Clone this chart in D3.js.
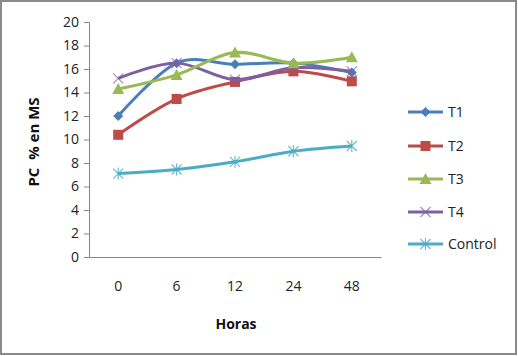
<!DOCTYPE html>
<html><head><meta charset="utf-8">
<script src="https://cdn.jsdelivr.net/npm/d3@7"></script>
<style>body{margin:0;background:#fff}svg{display:block}</style>
</head><body>
<svg id="c" width="518" height="356"></svg>
<script>
const categories = ["0","6","12","24","48"];
const seriesNames = ["T1","T2","T3","T4","Control"];
const T1 = [12.0, 16.5, 16.4, 16.5, 15.7];
const T2 = [10.4, 13.45, 14.9, 15.8, 14.95];
const T3 = [14.3, 15.5, 17.4, 16.5, 17.0];
const T4 = [15.2, 16.5, 15.1, 16.1, 15.8];
const Control = [7.1, 7.45, 8.1, 9.0, 9.45];
const yTicks = [0,2,4,6,8,10,12,14,16,18,20];
const colors = ["#4A7EBB","#BE4B48","#98B954","#7D60A0","#4AACC5"];
const markers = ["diamond","square","triangle","x","star"];
const data = [T1,T2,T3,T4,Control];

const svg = d3.select("#c");
const font = "'Open Sans', 'Noto Sans', sans-serif";
svg.append("rect").attr("x",1).attr("y",1).attr("width",515).attr("height",353)
  .attr("fill","#fff").attr("stroke","#8a8a8a").attr("stroke-width",2);

const x = d3.scaleBand().domain(categories).range([89,381]);
const y = d3.scaleLinear().domain([0,20]).range([257,22]);

const yAxis = svg.append("g").attr("transform","translate(89,0)")
  .call(d3.axisLeft(y).tickValues(yTicks).tickSize(5).tickPadding(5).tickSizeOuter(0));
yAxis.select(".domain").attr("stroke","#868686");
yAxis.selectAll(".tick line").attr("stroke","#868686");
yAxis.selectAll("text").attr("font-family",font).attr("font-size",14).attr("fill","#222");

const xAxis = svg.append("g").attr("transform","translate(0,257)")
  .call(d3.axisBottom(x).tickSize(0).tickPadding(24).tickSizeOuter(0));
xAxis.select(".domain").attr("stroke","#868686");
xAxis.selectAll("text").attr("font-family",font).attr("font-size",14).attr("fill","#222");

svg.append("text").attr("transform","translate(39,142) rotate(-90)")
  .attr("text-anchor","middle").attr("font-family",font).attr("font-weight","bold")
  .attr("font-size",15).attr("fill","#111").style("white-space","pre").text("PC  % en MS");
svg.append("text").attr("x",236).attr("y",329).attr("text-anchor","middle")
  .attr("font-family",font).attr("font-weight","bold").attr("font-size",14)
  .attr("fill","#111").text("Horas");

function drawMarker(g, type, color, cx, cy){
  if(type==="diamond"){
    g.append("path").attr("d",`M${cx},${cy-5}L${cx+5},${cy}L${cx},${cy+5}L${cx-5},${cy}Z`).attr("fill",color);
  } else if(type==="square"){
    g.append("rect").attr("x",cx-5).attr("y",cy-5).attr("width",10).attr("height",10).attr("fill",color);
  } else if(type==="triangle"){
    g.append("path").attr("d",`M${cx},${cy-6}L${cx+6},${cy+5}L${cx-6},${cy+5}Z`).attr("fill",color);
  } else if(type==="x"){
    g.append("path").attr("d",`M${cx-5},${cy-5}L${cx+5},${cy+5}M${cx-5},${cy+5}L${cx+5},${cy-5}`)
      .attr("stroke",color).attr("stroke-width",1.2).attr("opacity",0.7);
  } else if(type==="star"){
    g.append("path").attr("d",`M${cx-5},${cy-5}L${cx+5},${cy+5}M${cx-5},${cy+5}L${cx+5},${cy-5}M${cx},${cy-6}L${cx},${cy+6}`)
      .attr("stroke",color).attr("stroke-width",1.2).attr("opacity",0.8);
  }
}

const line = d3.line().x((d,i)=>x(categories[i])+x.bandwidth()/2).y(d=>y(d)).curve(d3.curveCardinal.tension(0));
const order = [4,1,0,3,2];
order.forEach(si=>{
  const g = svg.append("g");
  g.append("path").datum(data[si]).attr("d",line).attr("fill","none")
    .attr("stroke",colors[si]).attr("stroke-width",3).attr("stroke-linejoin","round");
  data[si].forEach((v,i)=>drawMarker(g, markers[si], colors[si], x(categories[i])+x.bandwidth()/2, y(v)));
});

// legend
const legY = [112,146,179,212,244];
seriesNames.forEach((n,i)=>{
  const g = svg.append("g");
  g.append("line").attr("x1",408).attr("x2",443).attr("y1",legY[i]).attr("y2",legY[i])
    .attr("stroke",colors[i]).attr("stroke-width",3);
  drawMarker(g, markers[i], colors[i], 425.5, legY[i]);
  g.append("text").attr("x",448).attr("y",legY[i]+5).attr("font-family",font)
    .attr("font-size",14).attr("fill","#222").text(n);
});
</script>
</body></html>
